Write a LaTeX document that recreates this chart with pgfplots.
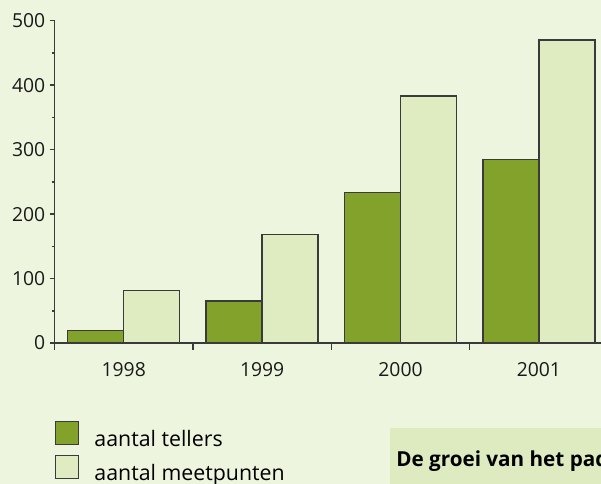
\documentclass[border=0pt]{standalone}
\usepackage{pgfplots}
\pgfplotsset{compat=1.18}
\usepackage{fontspec}
\setmainfont{Open Sans}
\definecolor{bg}{HTML}{EEF5DF}
\definecolor{darkbar}{HTML}{82A22B}
\definecolor{lightbar}{HTML}{DFEBC0}
\definecolor{boxc}{HTML}{DEEABF}
\definecolor{axc}{HTML}{3A3A3A}
\begin{document}
\begin{tikzpicture}
\fill[bg] (0,0) rectangle (450.75pt,-363pt);
\begin{scope}
\clip (0,0) rectangle (450.75pt,-363pt);
\fill[boxc] (292.5pt,-321.2pt) rectangle (460pt,-370pt);
\node[anchor=base west, inner sep=0pt, font=\fontsize{15.5}{18}\selectfont\bfseries] at (297pt,-350.25pt) {De groei van het pad};
\begin{axis}[
 at={(40.9pt,-257.25pt)}, anchor=south west,
 scale only axis, width=415.2pt, height=241.7pt,
 xmin=-0.5, xmax=3.5, ymin=0, ymax=500,
 axis lines*=left, axis line style={axc, line width=1.1pt},
 ybar=0pt, bar width=42pt,
 xtick={0,1,2,3}, xticklabels={1998,1999,2000,2001},
 xtick style={draw=none},
 extra x ticks={-0.5,0.5,1.5,2.5,3.5}, extra x tick labels={},
 extra x tick style={major tick length=4.9pt, xtick style={draw=axc, line width=1.1pt}},
 ytick={0,100,...,500}, minor y tick num=1,
 tick align=outside, major tick length=3.4pt, minor tick length=2pt,
 ytick style={axc, line width=1.1pt},
 tick label style={font=\fontsize{14.5}{17}\selectfont, text=black!90},
 /pgf/number format/assume math mode=true,
 xticklabel style={yshift=-8pt},
 legend image code/.code={\draw[#1] (0pt,-4pt) rectangle (17.25pt,13.25pt);},
 legend style={at={(axis description cs:0,-0.241)}, anchor=north west,
   draw=none, fill=none, inner sep=0pt, nodes={inner sep=0pt},
   font=\fontsize{16}{19}\selectfont, row sep=4.75pt,
   /tikz/every odd column/.append style={column sep=11.5pt}},
 legend cell align=left,
 clip=false,
]
\addplot[fill=darkbar, draw=axc, line width=1pt] coordinates {(0,19) (1,65) (2,234) (3,285)};
\addplot[fill=lightbar, draw=axc, line width=1pt] coordinates {(0,81) (1,168) (2,383) (3,470)};
\legend{aantal tellers, aantal meetpunten}
\end{axis}
\end{scope}
\pgfresetboundingbox
\useasboundingbox (0,0) rectangle (450.75pt,-363pt);
\end{tikzpicture}
\end{document}
